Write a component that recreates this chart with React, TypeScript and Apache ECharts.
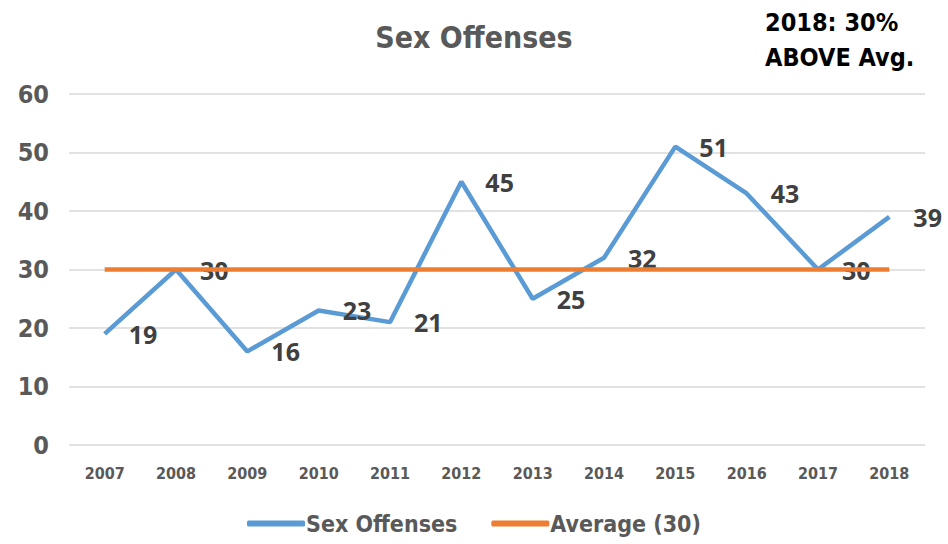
import React, { useEffect, useRef } from "react";
import * as echarts from "echarts";

const years = ["2007", "2008", "2009", "2010", "2011", "2012", "2013", "2014", "2015", "2016", "2017", "2018"];
const sexOffenses = [19, 30, 16, 23, 21, 45, 25, 32, 51, 43, 30, 39];
const average = [30, 30, 30, 30, 30, 30, 30, 30, 30, 30, 30, 30];
const titleText = "Sex Offenses";
const noteLines = ["2018: 30%", "ABOVE Avg."];

const FONT = "'Liberation Sans Narrow', 'DejaVu Sans Condensed', 'Roboto', sans-serif";

export default function App() {
  const ref = useRef<HTMLDivElement>(null);
  useEffect(() => {
    if (!ref.current) return;
    const chart = echarts.init(ref.current, null, { renderer: "svg" });
    chart.setOption({
      animation: false,
      backgroundColor: "#ffffff",
      title: {
        text: titleText,
        left: "center",
        top: 17,
        textStyle: { fontFamily: FONT, fontSize: 30, fontWeight: "bold", color: "#595959" },
      },
      graphic: [
        {
          type: "text",
          left: 765,
          top: 5,
          style: {
            text: noteLines.join("\n"),
            fontFamily: FONT,
            fontSize: 25,
            fontWeight: "bold",
            fill: "#000000",
            lineHeight: 35,
          },
        },
      ],
      legend: {
        bottom: 4,
        left: "center",
        itemWidth: 58,
        itemHeight: 6,
        itemGap: 34,
        textStyle: { fontFamily: FONT, fontSize: 23, fontWeight: "bold", color: "#595959", padding: [0, 0, 0, -4] },
        data: [
          { name: "Sex Offenses", icon: "roundRect" },
          { name: "Average (30)", icon: "roundRect" },
        ],
      },
      grid: { left: 69, right: 23, top: 94, bottom: 99 },
      xAxis: {
        type: "category",
        data: years,
        boundaryGap: true,
        axisLine: { show: false },
        axisTick: { show: false },
        axisLabel: { fontFamily: FONT, fontSize: 16, fontWeight: "bold", color: "#595959", margin: 20 },
      },
      yAxis: {
        type: "value",
        min: 0,
        max: 60,
        interval: 10,
        axisLine: { show: false },
        axisTick: { show: false },
        splitLine: { lineStyle: { color: "#d9d9d9", width: 1.5 } },
        axisLabel: { fontFamily: FONT, fontSize: 25, fontWeight: "bold", color: "#595959", margin: 20 },
      },
      series: [
        {
          name: "Sex Offenses",
          type: "line",
          data: sexOffenses,
          color: "#5B9BD5",
          symbol: "circle",
          symbolSize: 0,
          showSymbol: true,
          lineStyle: { width: 4.5, color: "#5B9BD5" },
          label: {
            show: true,
            position: "right",
            distance: 24,
            offset: [0, 4],
            fontFamily: "'Open Sans', 'DejaVu Sans', sans-serif",
            fontSize: 25,
            fontWeight: "bold",
            color: "#404040",
          },
          labelLayout: { hideOverlap: false },
          z: 2,
        },
        {
          name: "Average (30)",
          type: "line",
          data: average,
          color: "#ED7D31",
          symbol: "none",
          lineStyle: { width: 4.5, color: "#ED7D31" },
          z: 3,
        },
      ],
    });
    return () => chart.dispose();
  }, []);
  return <div ref={ref} style={{ position: "fixed", left: 0, top: 0, width: 948, height: 544 }} />;
}
